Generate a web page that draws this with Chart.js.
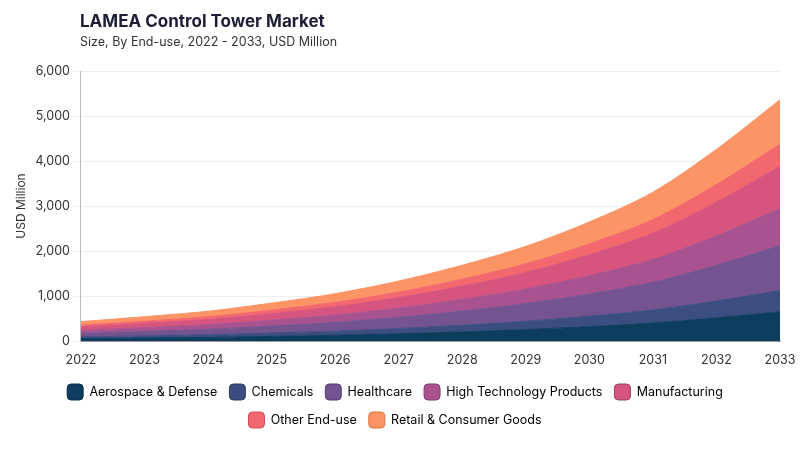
<!DOCTYPE html>
<html>
<head>
<meta charset="utf-8">
<script src="https://cdn.jsdelivr.net/npm/chart.js@4"></script>
<style>
  body { margin:0; background:#fff; font-family:Inter, "Noto Sans", sans-serif; }
  #wrap { position:relative; width:800px; height:450px; }
  #title { position:absolute; left:80px; top:11px; font-size:17px; font-weight:700; color:#1d1d35; }
  #sub { position:absolute; left:80px; top:34px; font-size:12.5px; color:#333; }
  canvas { position:absolute; left:0; top:0; }
</style>
</head>
<body>
<div id="wrap">
  <canvas id="chart" width="800" height="450"></canvas>
  <div id="title">LAMEA Control Tower Market</div>
  <div id="sub">Size, By End-use, 2022 - 2033, USD Million</div>
</div>
<script>
/* ===== DATA ===== */
const years = ["2022","2023","2024","2025","2026","2027","2028","2029","2030","2031","2032","2033"];

const aerospace  = [52, 65, 80, 102, 127, 161, 203, 254, 319, 399, 514, 650];
const chemicals  = [38, 48, 58, 74, 92, 117, 148, 185, 232, 290, 374, 470];
const healthcare = [80, 101, 123, 157, 196, 249, 314, 393, 494, 617, 795, 1000];
const highTech   = [66, 83, 102, 129, 162, 205, 259, 323, 407, 508, 655, 825];
const manufacturing = [76, 95, 116, 148, 185, 234, 296, 370, 465, 581, 748, 940];
const otherUse   = [40, 50, 61, 77, 97, 122, 155, 193, 243, 304, 391, 490];
const retail     = [79, 99, 121, 155, 193, 245, 309, 386, 486, 607, 782, 985];

const yTicks = [0, 1000, 2000, 3000, 4000, 5000, 6000];

/* ===== SERIES ===== */
const series = [
  ["Aerospace & Defense", aerospace, "#0d3d5e", "#0a2e47"],
  ["Chemicals", chemicals, "#3c4d80", "#2d3a61"],
  ["Healthcare", healthcare, "#735490", "#573f6d"],
  ["High Technology Products", highTech, "#a8528f", "#7f3e6c"],
  ["Manufacturing", manufacturing, "#d6557f", "#a24060"],
  ["Other End-use", otherUse, "#f3686f", "#d04a52"],
  ["Retail & Consumer Goods", retail, "#fc9465", "#e06f3c"]
];

const datasets = series.map(([label, data, color, edge], i) => ({
  label: label,
  data: data,
  backgroundColor: color,
  borderColor: color,
  edgeColor: edge,
  borderWidth: 1,
  fill: i === 0 ? "origin" : "-1",
  pointRadius: 0,
  tension: 0.3
}));

new Chart(document.getElementById("chart"), {
  type: "line",
  data: { labels: years, datasets: datasets },
  options: {
    responsive: false,
    animation: false,
    layout: { padding: { top: 71, right: 20, left: 10, bottom: 12 } },
    plugins: {
      legend: {
        position: "bottom",
        labels: {
          color: "#333",
          font: { size: 12.5, family: "Inter" },
          boxWidth: 16,
          boxHeight: 16,
          padding: 12,
          useBorderRadius: true,
          borderRadius: 4,
          generateLabels: chart => chart.data.datasets.map((d, i) => ({
            text: d.label,
            fillStyle: d.backgroundColor,
            strokeStyle: d.edgeColor,
            lineWidth: 1,
            borderRadius: 4,
            datasetIndex: i
          }))
        }
      },
      tooltip: { enabled: false }
    },
    scales: {
      x: {
        grid: { display: false },
        border: { color: "#999" },
        ticks: { color: "#333", padding: 4, font: { size: 12.5, family: "Inter" } }
      },
      y: {
        stacked: true,
        min: 0,
        max: 6000,
        afterBuildTicks: axis => { axis.ticks = yTicks.map(v => ({ value: v })); },
        grid: { color: "#eee" },
        border: { display: true, color: "#bbb" },
        title: { display: true, text: "USD Million", color: "#333", font: { size: 12, family: "Inter" } },
        ticks: {
          color: "#333",
          font: { size: 12.5, family: "Inter" },
          callback: v => v.toLocaleString("en-US")
        }
      }
    }
  }
});
</script>
</body>
</html>
